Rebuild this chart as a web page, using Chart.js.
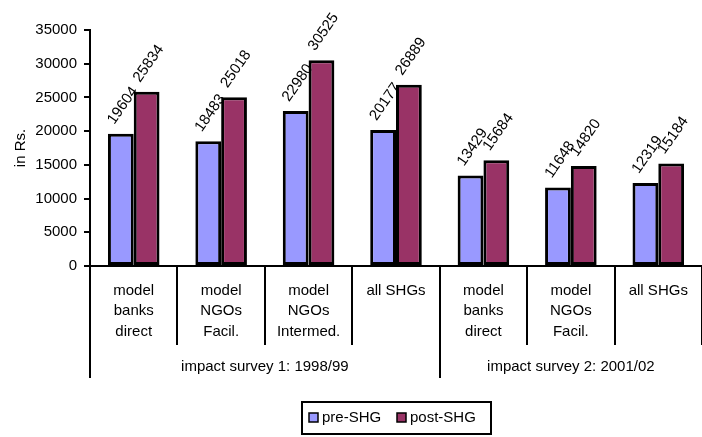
<!DOCTYPE html>
<html><head><meta charset="utf-8">
<script src="https://cdn.jsdelivr.net/npm/chart.js@4.4.0/dist/chart.umd.min.js"></script>
<style>html,body{margin:0;padding:0;background:#fff}#wrap{width:702px;height:437px;position:relative}</style>
</head><body><div id="wrap"><canvas id="c" width="702" height="437"></canvas></div>
<script>
const categories = [["model","banks","direct"],["model","NGOs","Facil."],["model","NGOs","Intermed."],["all SHGs"],["model","banks","direct"],["model","NGOs","Facil."],["all SHGs"]];
const groups = ["impact survey 1: 1998/99","impact survey 2: 2001/02"];
const groupSizes = [4,3];
const preSHG = [19604,18483,22980,20177,13429,11648,12319];
const postSHG = [25834,25018,30525,26889,15684,14820,15184];
const seriesNames = ["pre-SHG","post-SHG"];
const seriesColors = ["#9999FF","#993366"];
const yMin = 0, yMax = 35000, yStep = 5000;
const yTitle = "in Rs.";

const FONT = "'Liberation Sans', Arial, sans-serif";

const extraPlugin = {
  id: 'extra',
  afterDatasetsDraw(chart) {
    const ctx = chart.ctx;
    ctx.save();
    ctx.font = "15px " + FONT;
    ctx.fillStyle = "#000";
    ctx.textAlign = "center";
    ctx.textBaseline = "middle";
    const a = 55 * Math.PI / 180;
    chart.data.datasets.forEach((ds, di) => {
      const meta = chart.getDatasetMeta(di);
      meta.data.forEach((el, i) => {
        const txt = String(ds.data[i]);
        const w = ctx.measureText(txt).width;
        const h = 11;
        const boxH = w * Math.sin(a) + h * Math.cos(a);
        const cx = el.x + 2;
        const cy = el.y - 8 - boxH / 2;
        ctx.save();
        ctx.translate(cx, cy);
        ctx.rotate(-a);
        ctx.fillText(txt, 0, 0);
        ctx.restore();
      });
    });
    ctx.restore();
  },
  afterDraw(chart) {
    const ctx = chart.ctx;
    const xs = chart.scales.x;
    const area = chart.chartArea;
    const bounds = [xs.left];
    let idx = 0;
    groupSizes.forEach(n => {
      idx += n;
      if (idx < categories.length) {
        bounds.push((xs.getPixelForValue(idx - 1) + xs.getPixelForValue(idx)) / 2);
      } else {
        bounds.push(xs.right);
      }
    });
    ctx.save();
    ctx.strokeStyle = "#000";
    ctx.lineWidth = 2;
    for (let k = 0; k < bounds.length - 1; k++) {
      const bx = Math.round(bounds[k]);
      ctx.beginPath();
      ctx.moveTo(bx, area.bottom);
      ctx.lineTo(bx, area.bottom + 112);
      ctx.stroke();
    }
    ctx.font = "15px " + FONT;
    ctx.fillStyle = "#000";
    ctx.textAlign = "center";
    ctx.textBaseline = "middle";
    groups.forEach((g, k) => {
      ctx.fillText(g, (bounds[k] + bounds[k + 1]) / 2, area.bottom + 101);
    });
    const lx = 302, ly = 402, lw = 189, lh = 32;
    ctx.lineWidth = 2;
    ctx.strokeRect(lx, ly, lw, lh);
    ctx.textAlign = "left";
    const items = [{x: 309, tx: 322}, {x: 397, tx: 410}];
    seriesNames.forEach((n, k) => {
      ctx.fillStyle = seriesColors[k];
      ctx.fillRect(items[k].x, ly + 11, 9, 9);
      ctx.lineWidth = 1.5;
      ctx.strokeStyle = "#000";
      ctx.strokeRect(items[k].x, ly + 11, 9, 9);
      ctx.fillStyle = "#000";
      ctx.fillText(n, items[k].tx, ly + 16);
    });
    ctx.restore();
  }
};

new Chart(document.getElementById('c'), {
  type: 'bar',
  data: {
    labels: categories,
    datasets: seriesNames.map((n, k) => ({
      label: n,
      data: k === 0 ? preSHG : postSHG,
      backgroundColor: seriesColors[k],
      borderColor: "#000",
      borderWidth: 3,
      borderSkipped: false,
      categoryPercentage: 0.59,
      barPercentage: 1.0
    }))
  },
  options: {
    responsive: false,
    animation: false,
    devicePixelRatio: 1,
    layout: { padding: { top: 30, right: -7, bottom: 0, left: 0 } },
    plugins: { legend: { display: false }, tooltip: { enabled: false } },
    scales: {
      x: {
        type: 'category',
        offset: true,
        grid: {
          offset: true,
          drawOnChartArea: false,
          drawTicks: true,
          tickLength: 79,
          color: "#000",
          tickColor: "#000",
          lineWidth: 2
        },
        border: { color: "#000", width: 2 },
        ticks: {
          autoSkip: false,
          maxRotation: 0,
          minRotation: 0,
          padding: -64.5,
          color: "#000",
          font: { size: 15, family: FONT, lineHeight: 1.367 }
        },
        afterFit(scale) { scale.height = 171; }
      },
      y: {
        min: yMin,
        max: yMax,
        grid: {
          drawOnChartArea: false,
          drawTicks: true,
          tickLength: 6,
          color: "#000",
          tickColor: "#000",
          lineWidth: 2
        },
        border: { color: "#000", width: 2 },
        ticks: {
          stepSize: yStep,
          padding: 7,
          color: "#000",
          font: { size: 15, family: FONT },
          callback: (v) => String(v)
        },
        title: {
          display: true,
          text: yTitle,
          color: "#000",
          font: { size: 15, family: FONT },
          padding: { top: 12, bottom: 0 }
        },
        afterFit(scale) { scale.width = 90; }
      }
    }
  },
  plugins: [extraPlugin]
});
</script>
</body></html>
